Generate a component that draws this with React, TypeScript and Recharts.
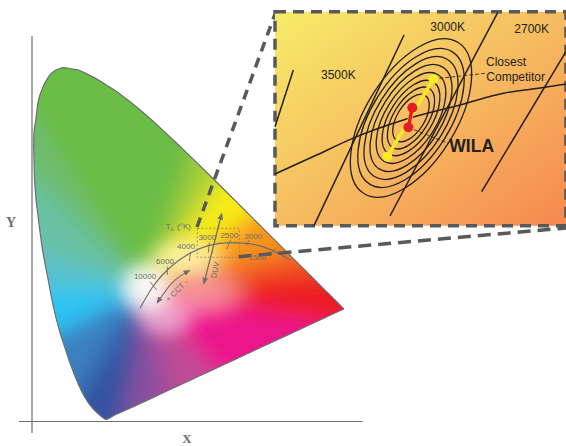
import { Area, ComposedChart, Line, ReferenceArea, ReferenceDot, ReferenceLine, Scatter, XAxis, YAxis } from "recharts";

// spectral locus and purple line, chromaticity x with lower / upper edge of the diagram
const locusX = [0.0039, 0.005, 0.0082, 0.0139, 0.0235, 0.0389, 0.0454, 0.0687, 0.0743, 0.0913, 0.1096, 0.1241, 0.144, 0.1566, 0.1644, 0.1741, 0.1929, 0.2296, 0.2658, 0.3016, 0.3373, 0.3731, 0.4087, 0.4441, 0.4788, 0.5125, 0.5448, 0.5752, 0.6029, 0.627, 0.6658, 0.6915, 0.719, 0.7347];
const locusLow = [0.6548, 0.6, 0.5384, 0.487, 0.4127, 0.33, 0.295, 0.2007, 0.1838, 0.1327, 0.0868, 0.0578, 0.0297, 0.0177, 0.0109, 0.005, 0.014, 0.0308, 0.0475, 0.0642, 0.0808, 0.0974, 0.114, 0.1304, 0.1464, 0.1621, 0.1771, 0.1913, 0.2041, 0.2153, 0.2333, 0.2453, 0.258, 0.2653];
const locusHigh = [0.6548, 0.685, 0.705, 0.7502, 0.782, 0.812, 0.82, 0.8325, 0.8338, 0.831, 0.828, 0.8213, 0.8113, 0.8047, 0.7997, 0.7934, 0.7816, 0.7543, 0.7243, 0.6923, 0.6589, 0.6245, 0.5896, 0.5547, 0.5202, 0.4866, 0.4544, 0.4242, 0.3965, 0.3725, 0.334, 0.3083, 0.2809, 0.2653];

const planckX = [0.2544, 0.2858, 0.3188, 0.3722, 0.4154, 0.4664, 0.5057, 0.5607, 0.6078];
const planckY = [0.2666, 0.3192, 0.3569, 0.3962, 0.4142, 0.4212, 0.4198, 0.4056, 0.3805];

const cctTicks = [
  [0.278, 0.3295, 0.2937, 0.3098],
  [0.3188, 0.3648, 0.3188, 0.3452],
  [0.3737, 0.4001, 0.3706, 0.3781],
  [0.4177, 0.4213, 0.4153, 0.3978],
  [0.4679, 0.4276, 0.4585, 0.4064],
  [0.5119, 0.4276, 0.504, 0.4143],
  [0.5723, 0.4064, 0.559, 0.3923],
];
const cctLabels = ["10000", "6000", "4000", "3000", "2500", "2000", "1500"];
const cctLabelX = [0.2662, 0.3133, 0.3627, 0.413, 0.4648, 0.5213, 0.5307];
const cctLabelY = [0.342, 0.3781, 0.4135, 0.4354, 0.4378, 0.437, 0.3868];

const duvArrow = [{ x: 0.4467, y: 0.4888 }, { x: 0.4051, y: 0.3256 }];
const cctArrow = [{ x: 0.2952, y: 0.28 }, { x: 0.329, y: 0.3256 }, { x: 0.3706, y: 0.3554 }];

// zoomed view, same units
const insetIsotherms = [
  [0.39805, 0.43793, 0.39172, 0.41839],
  [0.43621, 0.45, 0.40517, 0.38425],
  [0.46851, 0.4577, 0.43138, 0.38759],
  [0.49206, 0.44425, 0.46299, 0.39598],
];
const insetLocusX = [0.39172, 0.40609, 0.41931, 0.43598, 0.45552, 0.47046, 0.48483, 0.49206];
const insetLocusY = [0.40207, 0.40862, 0.41471, 0.42069, 0.42586, 0.42989, 0.43196, 0.4331];
const ringMajor = [0.0307, 0.0269, 0.0238, 0.0207, 0.0176, 0.0146, 0.012, 0.0092];
const ringMinor = [0.0155, 0.0136, 0.012, 0.0105, 0.0089, 0.0074, 0.006, 0.0047];
const competitorPair = [{ x: 0.43046, y: 0.40805 }, { x: 0.44632, y: 0.43483 }];
const wilaPair = [{ x: 0.4377, y: 0.41816 }, { x: 0.43908, y: 0.42494 }];
const insetLabels = ["3500K", "3000K", "2700K", "Closest", "Competitor"];
const insetLabelX = [0.41357, 0.45126, 0.48022, 0.47138, 0.47472];
const insetLabelY = [0.43621, 0.45287, 0.4523, 0.4408, 0.43563];

// fill of the diagram: hue wedges round the white point, blurred together
const WHITE_POINT = "145,290";
const hueWedges = [
  { color: "#6abd45", rim: "-30,20 -30,0 220,0 220,80" },
  { color: "#6dbc72", rim: "-30,120 -30,20" },
  { color: "#68c1a6", rim: "-30,230 -30,120" },
  { color: "#56c2cf", rim: "-30,290 -30,230" },
  { color: "#2bc4f4", rim: "-30,380 -30,290" },
  { color: "#3a7fbf", rim: "10,504 -30,380" },
  { color: "#3652a3", rim: "115,480 10,504" },
  { color: "#8a4f9f", rim: "185,458 115,480" },
  { color: "#c04c96", rim: "300,472 185,458" },
  { color: "#ec168c", rim: "450,346 450,480 300,472" },
  { color: "#ed1c24", rim: "450,260 450,346" },
  { color: "#f15a22", rim: "420,216 450,260" },
  { color: "#f7941d", rim: "340,155 420,216" },
  { color: "#f7ec13", rim: "280,88 340,155" },
  { color: "#a6ce39", rim: "220,80 280,88" },
];
const paleGlows = [
  { id: "paleRose", color: "#f8aab0", cx: 200, cy: 292, rx: 60, ry: 32, o: 0.8 },
  { id: "paleCream", color: "#fdf6b8", cx: 188, cy: 257, rx: 46, ry: 24, o: 0.9 },
  { id: "paleLilac", color: "#f2bedb", cx: 165, cy: 318, rx: 36, ry: 24, o: 0.8 },
  { id: "white", color: "#ffffff", cx: 146, cy: 288, rx: 33, ry: 33, o: 1 },
];

const SANS = "Liberation Sans, Arial, sans-serif";
const GREY = "#6d6e71";
const PAGE_SCALE = 424.5;
const INSET_SCALE = 2900;
const RING_TILT = -58;

const diagram = locusX.map((x, i) => ({ x, range: [locusLow[i], locusHigh[i]] }));
const planck = planckX.map((x, i) => ({ x, y: planckY[i] }));
const insetLocus = insetLocusX.map((x, i) => ({ x, y: insetLocusY[i] }));
const rings = ringMajor.map((major, i) => ({ x: 0.43862, y: 0.42138, major, minor: ringMinor[i] }));

function Ring(props: any) {
  const { cx, cy, payload } = props;
  return (
    <ellipse
      cx={cx}
      cy={cy}
      rx={payload.major * INSET_SCALE}
      ry={payload.minor * INSET_SCALE}
      transform={`rotate(${RING_TILT} ${cx} ${cy})`}
      fill="none"
      stroke="#231f20"
      strokeWidth={1.3}
    />
  );
}

function Blob(props: any) {
  return <circle cx={props.cx} cy={props.cy} r={5} fill={props.fill} />;
}

function textLabel(value: string, fontSize: number, fill: string, extra: object = {}) {
  return { value, position: "center" as const, fontSize, fill, fontFamily: SANS, ...extra };
}

export default function App() {
  return (
    <div style={{ position: "absolute", left: 0, top: 0, width: 566, height: 446, overflow: "hidden", background: "#fff" }}>
      <div style={{ position: "absolute", left: 0, top: 0 }}>
        <ComposedChart width={566} height={446} data={diagram} margin={{ top: 0, right: 0, bottom: 0, left: 0 }}>
          <defs>
            <filter id="soft" filterUnits="userSpaceOnUse" x={-60} y={-60} width={700} height={600}>
              <feGaussianBlur stdDeviation={11} />
            </filter>
            <filter id="softer" filterUnits="userSpaceOnUse" x={-60} y={-60} width={700} height={600}>
              <feGaussianBlur stdDeviation={7} />
            </filter>
            {paleGlows.map((g) => (
              <radialGradient key={g.id} id={g.id}>
                <stop offset="0" stopColor={g.color} stopOpacity={g.o} />
                <stop offset="0.5" stopColor={g.color} stopOpacity={g.o * 0.8} />
                <stop offset="1" stopColor={g.color} stopOpacity={0} />
              </radialGradient>
            ))}
            <pattern id="chroma" patternUnits="userSpaceOnUse" x={0} y={0} width={566} height={446}>
              <g filter="url(#soft)">
                {hueWedges.map((w) => (
                  <polygon key={w.color} points={`${WHITE_POINT} ${w.rim}`} fill={w.color} stroke={w.color} />
                ))}
              </g>
              <g filter="url(#softer)">
                {paleGlows.map((g) => (
                  <ellipse key={g.id} cx={g.cx} cy={g.cy} rx={g.rx} ry={g.ry} fill={`url(#${g.id})`} />
                ))}
              </g>
            </pattern>
            <marker id="arrow" viewBox="0 0 10 10" refX="8" refY="5" markerWidth="7" markerHeight="7" orient="auto-start-reverse" markerUnits="userSpaceOnUse">
              <path d="M0 1 L10 5 L0 9 Z" fill={GREY} />
            </marker>
          </defs>
          <XAxis type="number" dataKey="x" domain={[-32 / PAGE_SCALE, 534 / PAGE_SCALE]} hide allowDataOverflow />
          <YAxis type="number" domain={[-24.5 / PAGE_SCALE, 421.5 / PAGE_SCALE]} hide allowDataOverflow />

          <Area dataKey="range" type="monotone" fill="url(#chroma)" fillOpacity={1} stroke={GREY} strokeWidth={1.2} dot={false} activeDot={false} isAnimationActive={false} />

          <ReferenceLine segment={[{ x: 0, y: -0.027 }, { x: 0, y: 0.908 }]} stroke={GREY} strokeWidth={1.2} />
          <ReferenceLine segment={[{ x: -0.031, y: 0 }, { x: 0.779, y: 0 }]} stroke={GREY} strokeWidth={1.2} />

          <ReferenceArea x1={0.3894} x2={0.4883} y1={0.3868} y2={0.4551} fill="none" stroke="#8c8468" strokeWidth={0.8} strokeDasharray="2 2" />

          <Line data={planck} dataKey="y" type="monotone" stroke={GREY} strokeWidth={1.2} dot={false} activeDot={false} isAnimationActive={false} />
          {cctTicks.map((t, i) => (
            <ReferenceLine key={i} segment={[{ x: t[0], y: t[1] }, { x: t[2], y: t[3] }]} stroke={GREY} strokeWidth={0.9} />
          ))}
          <Line data={duvArrow} dataKey="y" type="linear" stroke={GREY} strokeWidth={1.3} dot={false} activeDot={false} markerStart="url(#arrow)" markerEnd="url(#arrow)" isAnimationActive={false} />
          <Line data={cctArrow} dataKey="y" type="monotone" stroke={GREY} strokeWidth={1.1} dot={false} activeDot={false} markerStart="url(#arrow)" markerEnd="url(#arrow)" isAnimationActive={false} />

          {cctLabels.map((t, i) => (
            <ReferenceDot key={t} x={cctLabelX[i]} y={cctLabelY[i]} r={0} fill="none" stroke="none" label={textLabel(t, 8, GREY)} />
          ))}
          <ReferenceDot x={0.3211} y={0.459} r={0} fill="none" stroke="none" label={textLabel("T", 8, GREY)} />
          <ReferenceDot x={0.3298} y={0.4527} r={0} fill="none" stroke="none" label={textLabel("c", 5.5, GREY)} />
          <ReferenceDot x={0.358} y={0.459} r={0} fill="none" stroke="none" label={textLabel("(°K)", 8, GREY)} />
          <ReferenceDot x={0.3407} y={0.3083} r={0} fill="none" stroke="none" label={textLabel("+ CCT -", 8, GREY, { angle: -45 })} />
          <ReferenceDot x={0.431} y={0.357} r={0} fill="none" stroke="none" label={textLabel("DUV", 8, GREY, { angle: -78 })} />

          <ReferenceDot x={-0.0495} y={0.47} r={0} fill="none" stroke="none" label={textLabel("Y", 14, GREY, { fontFamily: "Liberation Serif, serif", fontWeight: 700 })} />
          <ReferenceDot x={0.365} y={-0.04} r={0} fill="none" stroke="none" label={textLabel("X", 13, GREY, { fontFamily: "Liberation Serif, serif", fontWeight: 700 })} />

          <ReferenceLine segment={[{ x: 0.3887, y: 0.4582 }, { x: 0.5724, y: 0.9599 }]} stroke="#58595b" strokeWidth={3.5} strokeDasharray="10 7" />
          <ReferenceLine segment={[{ x: 0.4869, y: 0.3882 }, { x: 1.2579, y: 0.4559 }]} stroke="#58595b" strokeWidth={3.5} strokeDasharray="13 7" />
        </ComposedChart>
      </div>

      <div style={{ position: "absolute", left: 270, top: 6 }}>
        <ComposedChart width={296} height={226} margin={{ top: 0, right: 0, bottom: 0, left: 0 }}>
          <defs>
            <linearGradient id="insetWash" x1="0" y1="0" x2="1" y2="1">
              <stop offset="0" stopColor="#f7ec68" />
              <stop offset="0.5" stopColor="#f6bc60" />
              <stop offset="1" stopColor="#f6874f" />
            </linearGradient>
          </defs>
          <XAxis type="number" dataKey="x" domain={[0.39, 0.39 + 296 / INSET_SCALE]} hide allowDataOverflow />
          <YAxis type="number" dataKey="y" domain={[0.46 - 226 / INSET_SCALE, 0.46]} hide allowDataOverflow />

          <ReferenceArea x1={0.39172} x2={0.49206} y1={0.38425} y2={0.45805} fill="url(#insetWash)" fillOpacity={1} stroke="#58595b" strokeWidth={3.5} strokeDasharray="11 7" />

          {insetIsotherms.map((t, i) => (
            <ReferenceLine key={i} segment={[{ x: t[0], y: t[1] }, { x: t[2], y: t[3] }]} stroke="#231f20" strokeWidth={1.5} />
          ))}
          <Line data={insetLocus} dataKey="y" type="monotone" stroke="#231f20" strokeWidth={1.5} dot={false} activeDot={false} isAnimationActive={false} />

          <ReferenceLine segment={[{ x: 0.44632, y: 0.43483 }, { x: 0.46414, y: 0.43678 }]} stroke="#231f20" strokeWidth={0.8} strokeDasharray="4 2" />
          <ReferenceLine segment={[{ x: 0.4377, y: 0.41816 }, { x: 0.45149, y: 0.41264 }]} stroke="#231f20" strokeWidth={0.8} strokeDasharray="4 2" />

          <Scatter data={rings} shape={Ring} isAnimationActive={false} />
          <Scatter data={competitorPair} fill="#f6eb25" shape={Blob} line={{ stroke: "#f6eb25", strokeWidth: 3.5 }} isAnimationActive={false} />
          <Scatter data={wilaPair} fill="#e21f26" shape={Blob} line={{ stroke: "#e21f26", strokeWidth: 3.5 }} isAnimationActive={false} />

          {insetLabels.map((t, i) => (
            <ReferenceDot key={t} x={insetLabelX[i]} y={insetLabelY[i]} r={0} fill="none" stroke="none" label={textLabel(t, 12, "#231f20")} />
          ))}
          <ReferenceDot x={0.45955} y={0.41184} r={0} fill="none" stroke="none" label={textLabel("WILA", 17.5, "#231f20", { fontWeight: 700 })} />
        </ComposedChart>
      </div>
    </div>
  );
}
